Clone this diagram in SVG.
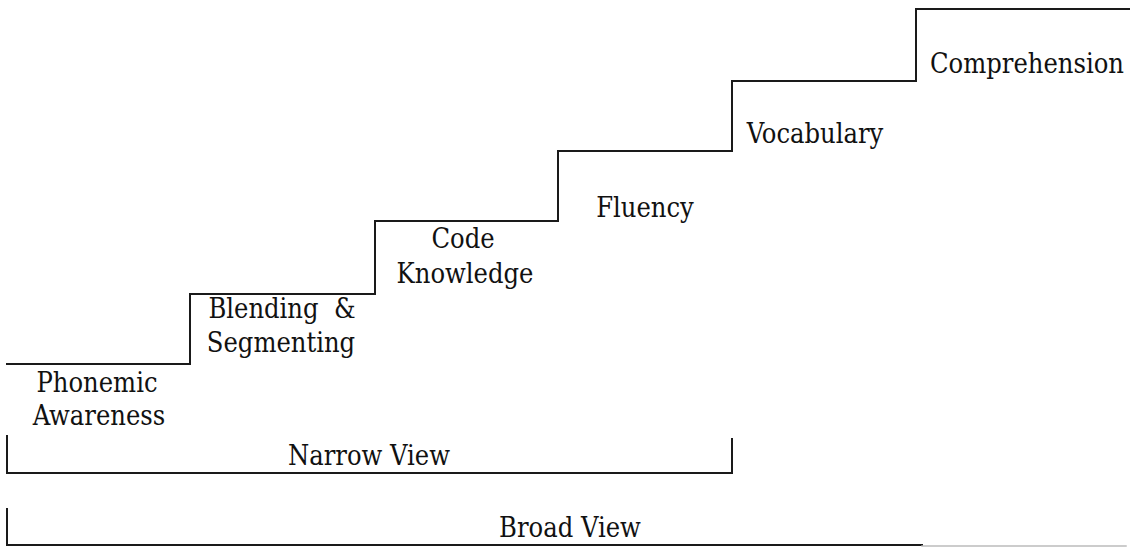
<svg xmlns="http://www.w3.org/2000/svg" width="1130" height="549" viewBox="0 0 1130 549">
<style>
.ln{fill:none;stroke:#1a1a1a;stroke-width:2;stroke-linecap:square}
.t{font-family:'DejaVu Serif Condensed','DejaVu Serif',serif;font-stretch:condensed;font-size:27px;fill:#111;text-anchor:middle}
</style>
<rect width="1130" height="549" fill="#fff"/>
<g id="connectors">
<path id="stairs" class="ln" d="M7,364 H190 V294 H375 V221 H558 V151 H732 V81 H916 V9 H1130"/>
<path id="narrow-bracket" class="ln" d="M7,436 V473 H732 V439"/>
<path id="broad-bracket" class="ln" d="M7,509 V545 H922"/>
<path class="ln" d="M922,546 H1126" style="stroke:#bbb;stroke-width:1.5"/>
</g>
<g id="phonemic-awareness"><text class="t" x="97" y="392">Phonemic</text><text class="t" x="99" y="425">Awareness</text></g>
<g id="blending-segmenting"><text class="t" x="282" y="318" xml:space="preserve">Blending  &amp;</text><text class="t" x="281" y="352">Segmenting</text></g>
<g id="code-knowledge"><text class="t" x="463" y="248">Code</text><text class="t" x="465" y="283">Knowledge</text></g>
<g id="fluency"><text class="t" x="645" y="217">Fluency</text></g>
<g id="vocabulary"><text class="t" x="815" y="143">Vocabulary</text></g>
<g id="comprehension"><text class="t" x="1027" y="73">Comprehension</text></g>
<g id="narrow-view"><text class="t" x="369" y="465">Narrow View</text></g>
<g id="broad-view"><text class="t" x="570" y="537">Broad View</text></g>
</svg>
